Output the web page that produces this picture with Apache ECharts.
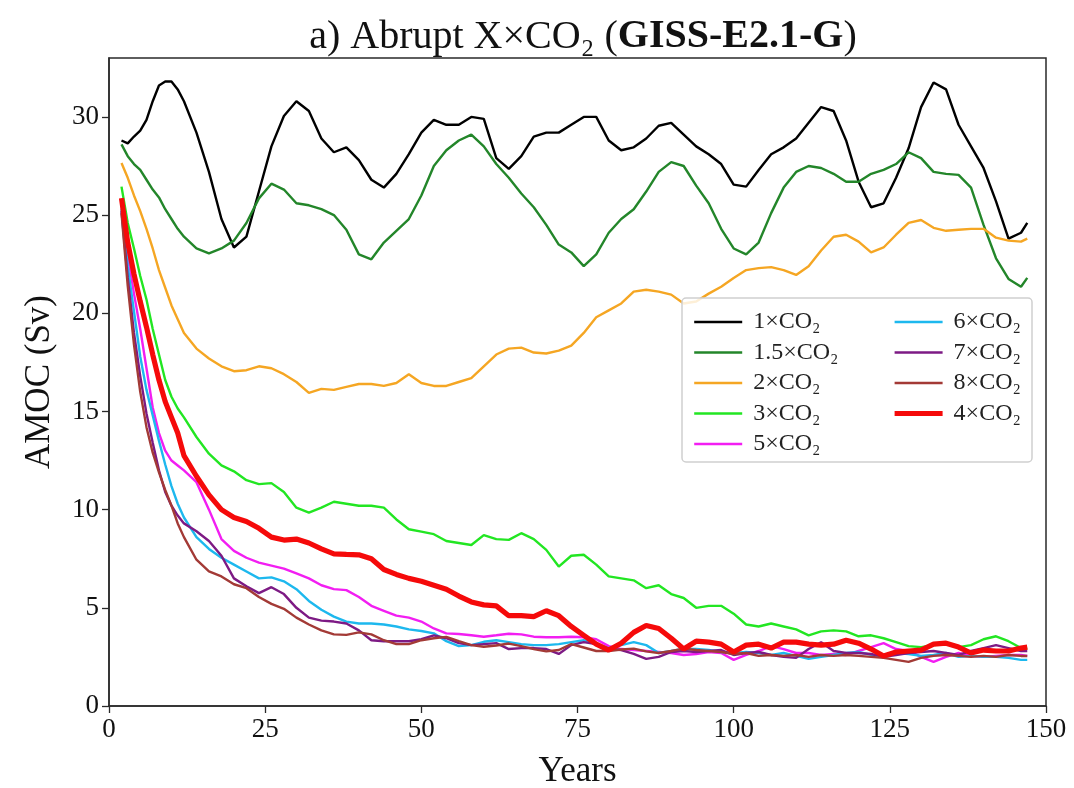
<!DOCTYPE html>
<html>
<head>
<meta charset="utf-8">
<title>AMOC abrupt CO2 experiments</title>
<script src="https://cdn.jsdelivr.net/npm/echarts@6/dist/echarts.min.js"></script>
<style>
  html, body { margin: 0; padding: 0; background: #ffffff; }
  #chart { width: 1074px; height: 788px; }
</style>
</head>
<body>
<div id="chart"></div>
<script>
// Simulation years (sampled yearly early on, then every second year)
const years = [2, 3, 4, 5, 6, 7, 8, 9, 10, 11, 12,
  14, 16, 18, 20, 22, 24, 26, 28, 30, 32,
  34, 36, 38, 40, 42, 44, 46, 48, 50, 52,
  54, 56, 58, 60, 62, 64, 66, 68, 70, 72,
  74, 76, 78, 80, 82, 84, 86, 88, 90, 92,
  94, 96, 98, 100, 102, 104, 106, 108, 110, 112,
  114, 116, 118, 120, 122, 124, 126, 128, 130, 132,
  134, 136, 138, 140, 142, 144, 146, 147];

// AMOC strength (Sv) for each forcing level
const amoc1x = [28.8, 28.65, 29.0, 29.3, 29.85, 30.8, 31.6, 31.8, 31.8, 31.4, 30.8,
  29.2, 27.2, 24.8, 23.35, 23.9, 26.2, 28.5, 30.05, 30.8, 30.3,
  28.9, 28.2, 28.45, 27.8, 26.8, 26.4, 27.1, 28.1, 29.2, 29.85,
  29.6, 29.6, 30.0, 29.9, 27.9, 27.35, 28.0, 29.0, 29.2, 29.2,
  29.6, 30.0, 30.0, 28.8, 28.3, 28.45, 28.9, 29.55, 29.7, 29.1,
  28.5, 28.1, 27.6, 26.55, 26.45, 27.3, 28.1, 28.45, 28.9, 29.7,
  30.5, 30.3, 28.8, 26.7, 25.4, 25.6, 26.9, 28.4, 30.5, 31.75,
  31.4, 29.6, 28.5, 27.4, 25.7, 23.8, 24.1, 24.6];

const amoc1p5x = [28.6, 28.0, 27.6, 27.3, 26.8, 26.3, 25.9, 25.3, 24.8, 24.3, 23.9,
  23.3, 23.05, 23.3, 23.7, 24.6, 25.85, 26.6, 26.3, 25.6, 25.5,
  25.3, 25.0, 24.25, 23.0, 22.75, 23.6, 24.2, 24.8, 26.0, 27.5,
  28.3, 28.8, 29.1, 28.5, 27.6, 26.9, 26.1, 25.4, 24.5, 23.5,
  23.1, 22.4, 23.0, 24.1, 24.8, 25.3, 26.2, 27.2, 27.7, 27.5,
  26.5, 25.6, 24.3, 23.3, 23.0, 23.6, 25.1, 26.4, 27.2, 27.5,
  27.4, 27.1, 26.7, 26.7, 27.1, 27.3, 27.6, 28.2, 27.9, 27.2,
  27.1, 27.05, 26.4, 24.5, 22.8, 21.75, 21.35, 21.8];

const amoc2x = [27.65, 26.9, 26.0, 25.2, 24.3, 23.3, 22.2, 21.3, 20.4, 19.7, 19.0,
  18.2, 17.7, 17.3, 17.05, 17.1, 17.3, 17.2, 16.9, 16.5, 15.95,
  16.15, 16.1, 16.25, 16.4, 16.4, 16.3, 16.45, 16.9, 16.45, 16.3,
  16.3, 16.5, 16.7, 17.3, 17.9, 18.2, 18.25, 18.0, 17.95, 18.1,
  18.35, 19.0, 19.8, 20.15, 20.5, 21.1, 21.2, 21.1, 20.95, 20.5,
  20.6, 21.0, 21.35, 21.8, 22.2, 22.3, 22.35, 22.2, 21.95, 22.4,
  23.2, 23.9, 24.0, 23.65, 23.1, 23.35, 24.0, 24.6, 24.75, 24.35,
  24.2, 24.25, 24.3, 24.3, 23.85, 23.7, 23.65, 23.8];

const amoc3x = [26.45, 24.6, 23.3, 21.9, 20.7, 19.2, 17.9, 16.6, 15.75, 15.15, 14.7,
  13.7, 12.85, 12.25, 11.95, 11.5, 11.3, 11.35, 10.9, 10.1, 9.85,
  10.1, 10.4, 10.3, 10.2, 10.2, 10.1, 9.5, 9.0, 8.88, 8.75,
  8.4, 8.3, 8.2, 8.7, 8.5, 8.46, 8.8, 8.5, 7.95, 7.1,
  7.65, 7.7, 7.2, 6.6, 6.5, 6.4, 6.0, 6.15, 5.7, 5.5,
  5.0, 5.1, 5.1, 4.7, 4.15, 4.05, 4.2, 4.05, 3.9, 3.6,
  3.8, 3.85, 3.8, 3.55, 3.6, 3.45, 3.25, 3.05, 3.0, 3.1,
  3.15, 3.0, 3.1, 3.4, 3.55, 3.3, 2.95, 2.9];

const amoc4x = [25.86, 23.6, 22.0, 20.6, 19.3, 17.9, 16.6, 15.5, 14.7, 13.9, 12.75,
  11.7, 10.75, 10.0, 9.6, 9.4, 9.05, 8.6, 8.45, 8.5, 8.3,
  8.0, 7.75, 7.72, 7.7, 7.5, 6.95, 6.7, 6.5, 6.35, 6.15,
  5.95, 5.6, 5.3, 5.15, 5.1, 4.6, 4.6, 4.55, 4.85, 4.6,
  4.05, 3.6, 3.15, 2.85, 3.2, 3.75, 4.1, 3.95, 3.45, 2.9,
  3.3, 3.25, 3.15, 2.75, 3.1, 3.15, 2.95, 3.25, 3.25, 3.15,
  3.1, 3.15, 3.35, 3.2, 2.9, 2.55, 2.75, 2.8, 2.85, 3.15,
  3.2, 3.0, 2.7, 2.85, 2.8, 2.8, 2.95, 3.0];

const amoc5x = [25.5, 23.0, 21.0, 19.2, 17.2, 15.2, 13.9, 13.0, 12.5, 12.25, 12.0,
  11.4, 10.0, 8.5, 7.9, 7.55, 7.3, 7.15, 7.0, 6.75, 6.5,
  6.15, 5.95, 5.9, 5.55, 5.1, 4.85, 4.6, 4.5, 4.3, 3.95,
  3.7, 3.67, 3.6, 3.53, 3.6, 3.68, 3.65, 3.53, 3.5, 3.5,
  3.53, 3.5, 3.4, 3.05, 2.9, 2.85, 2.8, 2.75, 2.7, 2.6,
  2.65, 2.75, 2.7, 2.35, 2.6, 2.8, 3.05, 2.9, 2.7, 2.7,
  2.6, 2.65, 2.6, 2.8, 3.0, 3.2, 2.9, 2.8, 2.5, 2.25,
  2.5, 2.7, 2.55, 2.5, 2.55, 2.6, 2.6, 2.55];

const amoc6x = [25.3, 22.4, 20.1, 17.8, 16.1, 14.8, 13.5, 12.3, 11.2, 10.3, 9.6,
  8.6, 8.0, 7.55, 7.2, 6.85, 6.5, 6.55, 6.35, 5.95, 5.35,
  4.9, 4.55, 4.3, 4.2, 4.2, 4.15, 4.05, 3.9, 3.82, 3.7,
  3.3, 3.05, 3.1, 3.27, 3.35, 3.25, 3.15, 3.1, 3.1, 3.15,
  3.25, 3.35, 3.15, 2.95, 3.1, 3.25, 3.1, 2.7, 2.8, 2.9,
  2.9, 2.85, 2.75, 2.7, 2.75, 2.7, 2.6, 2.7, 2.55, 2.4,
  2.5, 2.6, 2.7, 2.75, 2.6, 2.55, 2.7, 2.65, 2.55, 2.6,
  2.7, 2.5, 2.55, 2.5, 2.5, 2.45, 2.35, 2.35];

const amoc7x = [25.2, 21.8, 19.0, 16.8, 14.9, 13.4, 12.0, 10.9, 10.2, 9.7, 9.3,
  8.9, 8.4, 7.65, 6.5, 6.1, 5.75, 6.05, 5.7, 5.0, 4.5,
  4.35, 4.3, 4.2, 3.85, 3.35, 3.3, 3.3, 3.3, 3.4, 3.6,
  3.45, 3.2, 3.1, 3.15, 3.2, 2.9, 2.95, 2.95, 2.9, 2.65,
  3.1, 3.25, 3.15, 2.9, 2.85, 2.65, 2.4, 2.5, 2.75, 2.8,
  2.75, 2.8, 2.85, 2.6, 2.7, 2.75, 2.6, 2.5, 2.45, 2.9,
  3.25, 2.8, 2.7, 2.7, 2.65, 2.5, 2.6, 2.7, 2.75, 2.8,
  2.7, 2.6, 2.8, 2.95, 3.1, 2.95, 2.8, 2.8];

const amoc8x = [25.1, 21.4, 18.4, 16.0, 14.2, 12.9, 11.9, 11.0, 10.2, 9.3, 8.6,
  7.45, 6.85, 6.6, 6.2, 6.0, 5.55, 5.2, 4.95, 4.5, 4.15,
  3.85, 3.65, 3.62, 3.75, 3.65, 3.35, 3.15, 3.15, 3.35, 3.45,
  3.52, 3.3, 3.1, 3.02, 3.08, 3.18, 3.05, 2.9, 2.78, 2.85,
  3.15, 2.98, 2.8, 2.8, 2.88, 2.92, 2.78, 2.7, 2.8, 2.92,
  2.85, 2.8, 2.75, 2.65, 2.7, 2.55, 2.6, 2.55, 2.6, 2.5,
  2.6, 2.55, 2.6, 2.55, 2.5, 2.45, 2.35, 2.25, 2.45, 2.55,
  2.6, 2.55, 2.5, 2.55, 2.5, 2.6, 2.55, 2.55];

const xTicks = [0, 25, 50, 75, 100, 125, 150];
const yTicks = [0, 5, 10, 15, 20, 25, 30];

// Drawing order: 4xCO2 last so it sits on top
const runs = [
  { name: '1×CO₂',   values: amoc1x,   color: '#000000', width: 2.4 },
  { name: '1.5×CO₂', values: amoc1p5x, color: '#23862a', width: 2.4 },
  { name: '2×CO₂',   values: amoc2x,   color: '#f5a623', width: 2.4 },
  { name: '3×CO₂',   values: amoc3x,   color: '#22e622', width: 2.4 },
  { name: '5×CO₂',   values: amoc5x,   color: '#f21ef2', width: 2.4 },
  { name: '6×CO₂',   values: amoc6x,   color: '#1db8ee', width: 2.4 },
  { name: '7×CO₂',   values: amoc7x,   color: '#7d1a84', width: 2.4 },
  { name: '8×CO₂',   values: amoc8x,   color: '#a33a36', width: 2.4 },
  { name: '4×CO₂',   values: amoc4x,   color: '#f50a0a', width: 5.2 }
];

const FONT = '"Liberation Serif", "DejaVu Serif", serif';

const series = runs.map(r => ({
  name: r.name,
  type: 'line',
  data: years.map((y, i) => [y, r.values[i]]),
  showSymbol: false,
  symbol: 'none',
  lineStyle: { color: r.color, width: r.width },
  itemStyle: { color: r.color },
  emphasis: { disabled: true },
  z: 2
}));

// Legend entries: a plain line sample in each run's colour and width
function legendItems(names) {
  return names.map(n => {
    const r = runs.find(x => x.name === n);
    return { name: n, lineStyle: { color: r.color, width: r.width }, itemStyle: { opacity: 0 } };
  });
}

const legendCommon = {
  orient: 'vertical',
  top: 305,
  itemWidth: 48,
  itemHeight: 14,
  itemGap: 6.5,
  z: 5,
  itemStyle: { opacity: 0 },
  textStyle: {
    fontFamily: FONT,
    fontSize: 24,
    color: '#222',
    lineHeight: 24,
    padding: [0, 0, 0, 6]
  },
  selectedMode: false
};

const chart = echarts.init(document.getElementById('chart'), null, { renderer: 'canvas' });

chart.setOption({
  animation: false,
  backgroundColor: '#ffffff',
  title: {
    text: '{n|a) Abrupt X×CO₂ (}{b|GISS-E2.1-G}{n|)}',
    left: 578,
    textAlign: 'center',
    top: 12,
    textStyle: {
      fontWeight: 'normal',
      rich: {
        n: { fontFamily: FONT, fontSize: 40, fontWeight: 'normal', color: '#111' },
        b: { fontFamily: FONT, fontSize: 40, fontWeight: 'bold', color: '#111' }
      }
    }
  },
  grid: {
    left: 109, right: 28, top: 58, bottom: 82,
    outerBoundsMode: 'none',
    containLabel: false,
    show: true,
    borderColor: '#2a2a2a',
    borderWidth: 1.5,
    backgroundColor: 'transparent'
  },
  legend: [
    Object.assign({}, legendCommon, {
      left: 688,
      data: legendItems(['1×CO₂', '1.5×CO₂', '2×CO₂', '3×CO₂', '5×CO₂'])
    }),
    Object.assign({}, legendCommon, {
      left: 887,
      data: legendItems(['6×CO₂', '7×CO₂', '8×CO₂', '4×CO₂'])
    })
  ],
  graphic: [{
    type: 'rect',
    z: 3,
    shape: { x: 682, y: 298, width: 350, height: 164, r: 4 },
    style: { fill: 'rgba(255,255,255,0.82)', stroke: '#cfcfcf', lineWidth: 1.5 }
  }],
  xAxis: {
    type: 'value',
    min: 0,
    max: 150,
    interval: 25,
    name: 'Years',
    nameLocation: 'middle',
    nameGap: 48,
    nameTextStyle: { fontFamily: FONT, fontSize: 35, color: '#111' },
    axisLine: { show: true, lineStyle: { color: '#2a2a2a', width: 1.5 } },
    axisTick: { show: true, inside: false, length: 7, lineStyle: { color: '#2a2a2a', width: 1.3 }, customValues: xTicks },
    axisLabel: { fontFamily: FONT, fontSize: 27, color: '#111', margin: 10, customValues: xTicks },
    splitLine: { show: false }
  },
  yAxis: {
    type: 'value',
    min: 0,
    max: 33,
    interval: 5,
    name: 'AMOC (Sv)',
    nameLocation: 'middle',
    nameGap: 52,
    nameRotate: 90,
    nameTextStyle: { fontFamily: FONT, fontSize: 35, color: '#111' },
    axisLine: { show: true, lineStyle: { color: '#2a2a2a', width: 1.5 } },
    axisTick: { show: true, inside: false, length: 7, lineStyle: { color: '#2a2a2a', width: 1.3 }, customValues: yTicks },
    axisLabel: { fontFamily: FONT, fontSize: 27, color: '#111', margin: 10, customValues: yTicks },
    splitLine: { show: false }
  },
  series: series
});
</script>
</body>
</html>
